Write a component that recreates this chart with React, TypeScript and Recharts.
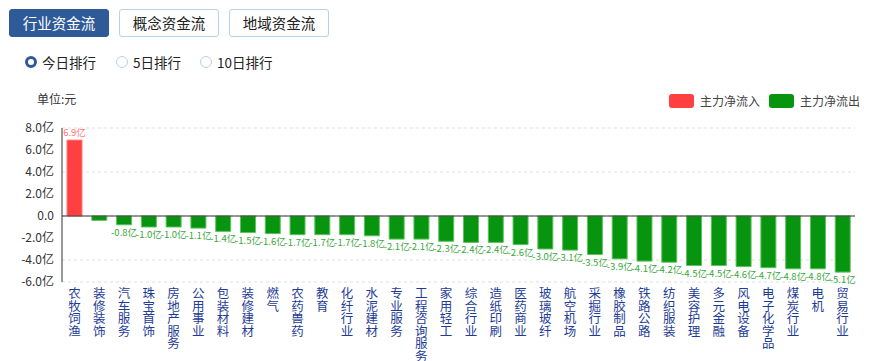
import React from 'react';
import {
  BarChart,
  Bar,
  XAxis,
  YAxis,
  CartesianGrid,
  ReferenceLine,
  LabelList,
  Cell
} from 'recharts';

// sectors, ordered as in the ranking
const categories = [
  '农牧饲渔', '装修装饰', '汽车服务', '珠宝首饰', '房地产服务', '公用事业', '包装材料', '装修建材',
  '燃气', '农药兽药', '教育', '化纤行业', '水泥建材', '专业服务', '工程咨询服务', '家用轻工',
  '综合行业', '造纸印刷', '医药商业', '玻璃玻纤', '航空机场', '采掘行业', '橡胶制品', '铁路公路',
  '纺织服装', '美容护理', '多元金融', '风电设备', '电子化学品', '煤炭行业', '电机', '贸易行业'
];

// main net flow, in 亿
const netFlow = [
  6.9, -0.4, -0.8, -1.0, -1.0, -1.1, -1.4, -1.5,
  -1.6, -1.7, -1.7, -1.7, -1.8, -2.1, -2.1, -2.3,
  -2.4, -2.4, -2.6, -3.0, -3.1, -3.5, -3.9, -4.1,
  -4.2, -4.5, -4.5, -4.6, -4.7, -4.8, -4.8, -5.1
];

// the second bar's label is hidden in the original
const hiddenLabels = [1];

const yTicks = [-6, -4, -2, 0, 2, 4, 6, 8];

const tabs = ['行业资金流', '概念资金流', '地域资金流'];
const periods = ['今日排行', '5日排行', '10日排行'];

const RED = '#ff4040';
const GREEN = '#079510';
const FONT = '"Noto Sans CJK SC", "Noto Sans", sans-serif';

const data = categories.map((name, i) => ({ name, value: netFlow[i] }));

const VerticalTick = (props: any) => {
  const { x, y, payload } = props;
  const chars = String(payload.value).split('');
  return (
    <text x={x} y={y + 8} textAnchor="middle" fill="#1e3c96" fontSize={12.5} fontFamily={FONT}>
      {chars.map((c, i) => (
        <tspan key={i} x={x} dy={i === 0 ? 0 : 12.6}>{c}</tspan>
      ))}
    </text>
  );
};

const BarLabel = (props: any) => {
  const { x, y, width, height, value, index } = props;
  if (hiddenLabels.includes(index)) return null;
  const cx = x + width / 2;
  const pos = value >= 0;
  // bar y/height can come back flipped for negatives, use the lower edge
  const bottom = Math.max(y, y + height);
  const top = Math.min(y, y + height);
  return (
    <text
      x={cx}
      y={pos ? top - 4 : bottom + 11}
      textAnchor="middle"
      fontSize={9.5}
      fontFamily={FONT}
      fill={pos ? '#ff7373' : '#39a83c'}
    >
      {value.toFixed(1)}亿
    </text>
  );
};

const App = () => {
  return (
    <div style={{ position: 'absolute', left: 0, top: 0, width: 869, height: 361, background: '#fff', fontFamily: FONT, overflow: 'hidden' }}>
      {tabs.map((t, i) => (
        <div
          key={t}
          style={{
            position: 'absolute',
            left: 9 + i * 110,
            top: 9,
            width: 100,
            height: 28,
            boxSizing: 'border-box',
            border: i === 0 ? '1px solid #2f5a98' : '1px solid #b9d1ea',
            background: i === 0 ? '#2f5a98' : '#fff',
            color: i === 0 ? '#fff' : '#222',
            borderRadius: 3,
            fontSize: 14.5,
            lineHeight: '26px',
            textAlign: 'center'
          }}
        >
          {t}
        </div>
      ))}

      {periods.map((p, i) => {
        const left = [25, 116, 200][i];
        const selected = i === 0;
        return (
          <div key={p} style={{ position: 'absolute', left, top: 53, height: 18, display: 'flex', alignItems: 'center' }}>
            <div
              style={{
                width: 12,
                height: 12,
                boxSizing: 'border-box',
                borderRadius: '50%',
                border: selected ? '3.5px solid #2f5a98' : '1px solid #b9d1ea',
                background: '#fff',
                marginRight: 5
              }}
            />
            <span style={{ fontSize: 13.5, color: '#222' }}>{p}</span>
          </div>
        );
      })}

      <div style={{ position: 'absolute', left: 37, top: 90, fontSize: 12, color: '#333' }}>单位:元</div>

      {[
        { label: '主力净流入', color: RED, left: 669 },
        { label: '主力净流出', color: GREEN, left: 769 }
      ].map(l => (
        <div key={l.label} style={{ position: 'absolute', left: l.left, top: 92, display: 'flex', alignItems: 'center' }}>
          <div style={{ width: 25, height: 14, background: l.color, borderRadius: 3, marginRight: 6 }} />
          <span style={{ fontSize: 12, color: '#444' }}>{l.label}</span>
        </div>
      ))}

      <div style={{ position: 'absolute', left: 0, top: 0 }}>
        <BarChart
          width={869}
          height={361}
          data={data}
          margin={{ top: 128, right: 14, bottom: 0, left: 0 }}
        >
          <CartesianGrid stroke="#dedede" strokeDasharray="3 3" vertical={false} />
          <XAxis
            dataKey="name"
            interval={0}
            axisLine={false}
            tickLine={false}
            height={79}
            tick={<VerticalTick />}
          />
          <YAxis
            type="number"
            domain={[-6, 8]}
            ticks={yTicks}
            width={62}
            axisLine={{ stroke: '#333' }}
            tickLine={false}
            tick={{ fill: '#333', fontSize: 12, fontFamily: FONT }}
            tickFormatter={(v: number) => (v === 0 ? '0.0' : `${v.toFixed(1)}亿`)}
          />
          <ReferenceLine y={0} stroke="#333" />
          <Bar dataKey="value" barSize={15} isAnimationActive={false}>
            {data.map((d, i) => (
              <Cell key={i} fill={d.value >= 0 ? RED : GREEN} stroke={d.value >= 0 ? '#ff7a7a' : '#5fc25f'} strokeWidth={1} />
            ))}
            <LabelList dataKey="value" content={<BarLabel />} />
          </Bar>
        </BarChart>
      </div>
    </div>
  );
};

export default App;
